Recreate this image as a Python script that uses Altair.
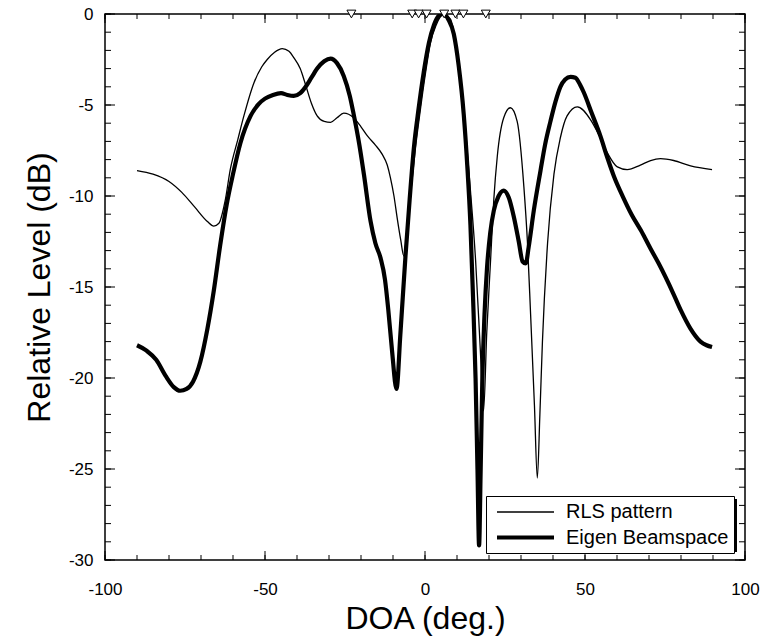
import altair as alt
import pandas as pd

# ---- data ----
rls_deg = [-90, -85, -80, -76, -72, -68, -66, -64.4, -62.5, -60.8, -58.5, -56.6, -53.5, -51, -49.3, -47,
           -44.6, -42.5, -41, -39, -37.3, -35.5, -33.7, -31.5, -29.5, -27.5, -25.4, -22.3, -20, -18,
           -15.5, -13.4, -11.8, -10.8, -9.7, -8.7, -7.6, -6.6, -5.6, -4.5, -3, -1.4, 0.2, 1.7, 3.5,
           5.8, 8, 9.5, 11.1, 12.6, 14.2, 15.8, 17.3, 18.3, 19.3, 20.5, 21.5, 22.6, 24.6, 26.7, 28.8,
           30.9, 32, 33, 34.2, 35.1, 35.9, 36.7, 38.3, 40.3, 42.3, 44.4, 47.6, 51.7, 54.5, 56.9, 60.1,
           63.2, 67.3, 70.5, 73.6, 77.7, 83, 89.7]
rls_db = [-8.6, -8.8, -9.2, -9.8, -10.6, -11.4, -11.65, -11.5, -10.3, -8.5, -6.9, -5.6, -3.8, -2.9, -2.5,
          -2.1, -1.9, -2.05, -2.4, -3.0, -3.9, -4.9, -5.6, -5.9, -5.95, -5.7, -5.45, -5.7, -6.2, -6.7,
          -7.2, -7.7, -8.3, -9.0, -10.0, -11.2, -12.4, -13.3, -11.8, -9.9, -7.4, -5.2, -3.2, -1.6, -0.6,
          0, -0.3, -1.5, -3.4, -6.2, -9.7, -13.5, -18.5, -21.8, -17.5, -13.5, -10.2, -7.8, -5.7, -5.15,
          -5.9, -9.5, -12.5, -16.5, -21.5, -25.5, -22, -18, -12.6, -8.8, -6.8, -5.6, -5.1, -5.8, -6.7,
          -7.6, -8.4, -8.55, -8.3, -8.05, -7.95, -8.05, -8.35, -8.55]

eig_deg = [-90, -87, -84, -81, -78.5, -76.5, -74.5, -72.5, -70.2, -68, -66, -64, -62, -60, -57.7, -54.5,
           -52, -50, -47.5, -45, -43, -41, -39, -37.3, -35.5, -33.7, -31.5, -29.5, -27.5, -25.4, -23.5,
           -22.3, -20.5, -19.1, -17, -15.5, -13.9, -12.5, -11.5, -10.3, -8.9, -7.7, -6.1, -4.8, -3.5,
           -2, -0.4, 1.2, 2.8, 4.3, 5.8, 7.3, 9, 10.5, 12.1, 13.2, 14.2, 15, 15.8, 16.4, 16.9, 17.4,
           17.9, 18.6, 19.4, 20.4, 21.5, 23, 24.6, 26.2, 27.7, 29.3, 30.5, 31.5, 32.4, 34, 36.1, 37.5,
           39.2, 40.8, 42.3, 43.8, 45.5, 47, 48.5, 49.6, 52, 54.8, 57, 59, 62, 64.5, 67.5, 70.5, 73,
           77.7, 80, 83, 86.1, 88, 89.7]
eig_db = [-18.2, -18.5, -19.0, -19.9, -20.5, -20.7, -20.6, -20.2, -19.1, -17.3, -15.2, -12.7, -10.5, -8.8,
          -7.1, -5.6, -4.95, -4.65, -4.45, -4.35, -4.45, -4.5, -4.35, -4.0, -3.5, -3.0, -2.6, -2.45,
          -2.7, -3.4, -4.5, -5.5, -7.2, -8.8, -11.4, -12.6, -13.4, -14.6, -16.2, -18.5, -20.6, -17.6,
          -13.3, -10.2, -7.4, -5.2, -3.2, -1.6, -0.6, -0.1, 0, -0.3, -1.1, -2.8, -5.5, -8.3, -11.6,
          -15.5, -20.0, -25, -29.2, -25, -20.2, -16.5, -13.9, -12.0, -10.8, -10.0, -9.7, -10.1, -11.1,
          -12.5, -13.6, -13.7, -12.8, -10.8, -8.6, -7.2, -5.9, -4.8, -4.0, -3.6, -3.45, -3.5, -3.9,
          -4.3, -5.4, -6.7, -7.9, -8.9, -10.1, -11.0, -11.9, -12.9, -13.7, -15.4, -16.3, -17.3, -18.0,
          -18.2, -18.3]

marker_deg = [-23, -4, -2, 0.5, 6, 9.5, 12, 19]
series_names = ["RLS pattern", "Eigen Beamspace"]
x_labels = [-100, -50, 0, 50, 100]
y_labels = [-30, -25, -20, -15, -10, -5, 0]
x_minor = list(range(-100, 101, 10))
y_minor = list(range(-30, 1))

FONT = "Liberation Sans"
W, H = 640, 546
LEG_X, LEG_Y, LEG_W, LEG_H = 381, 482, 248, 53   # legend box (plot coords) for the drop shadow

df = pd.concat([
    pd.DataFrame({"deg": rls_deg, "db": rls_db, "series": series_names[0]}),
    pd.DataFrame({"deg": eig_deg, "db": eig_db, "series": series_names[1]}),
])

xs = alt.Scale(domain=[-100, 100], nice=False, zero=False)
ys = alt.Scale(domain=[-30, 0], nice=False, zero=False)

xaxis = alt.Axis(values=x_labels, title="DOA (deg.)", ticks=False, domain=False, grid=False,
                 labelFlush=False, labelFontSize=17, labelFont=FONT, labelColor="black",
                 labelPadding=21, titleFontSize=32, titleFont=FONT, titleFontWeight="normal",
                 titleColor="black", titlePadding=6, labelExpr="'' + datum.value")
yaxis = alt.Axis(values=y_labels, title="Relative Level (dB)", ticks=False, domain=False, grid=False,
                 labelFlush=False, labelFontSize=17, labelFont=FONT, labelColor="black",
                 labelPadding=12, titleFontSize=32, titleFont=FONT, titleFontWeight="normal",
                 titleColor="black", titlePadding=12, labelExpr="'' + datum.value")

lines = alt.Chart(df).mark_line(interpolate="monotone", color="black", clip=True).encode(
    x=alt.X("deg:Q", scale=xs, axis=xaxis),
    y=alt.Y("db:Q", scale=ys, axis=yaxis),
    strokeWidth=alt.StrokeWidth("series:N",
        scale=alt.Scale(domain=series_names, range=[1.3, 4.2]),
        legend=alt.Legend(title=None, orient="none", legendX=LEG_X, legendY=LEG_Y,
                          symbolType="M-2.85,0H2.85", symbolSize=400, symbolStrokeColor="black",
                          symbolOffset=22, labelOffset=28, labelLimit=400,
                          labelFontSize=20, labelFont=FONT, labelColor="black",
                          fillColor="white", strokeColor="black",
                          padding=5, rowPadding=3, zindex=1)),
    order=alt.Order("deg:Q"),
)

def rules_y(vals, x0, x1):
    return alt.Chart(pd.DataFrame({"v": vals})).mark_rule(color="black", strokeWidth=1).encode(
        y=alt.Y("v:Q", scale=ys, axis=yaxis), x=alt.value(x0), x2=alt.value(x1))

def rules_x(vals, y0, y1):
    return alt.Chart(pd.DataFrame({"v": vals})).mark_rule(color="black", strokeWidth=1).encode(
        x=alt.X("v:Q", scale=xs, axis=xaxis), y=alt.value(y0), y2=alt.value(y1))

ticks = [
    rules_y(y_minor, 0, 6), rules_y(y_labels, 0, 10),
    rules_y(y_minor, W, W - 6), rules_y(y_labels, W, W - 10),
    rules_x(x_minor, 0, 5), rules_x(x_labels, 0, 9),
    rules_x(x_minor, H, H - 5), rules_x(x_labels, H, H - 9),
]

markers = alt.Chart(pd.DataFrame({"deg": marker_deg, "db": [0] * len(marker_deg)})).mark_point(
    shape="triangle-down", filled=True, fill="white", stroke="black", strokeWidth=1,
    size=80, opacity=1, clip=False).encode(
    x=alt.X("deg:Q", scale=xs, axis=xaxis), y=alt.Y("db:Q", scale=ys, axis=yaxis))

shadow = alt.Chart(pd.DataFrame({"k": [0]})).mark_rect(color="black").encode(
    x=alt.value(LEG_X + 3), x2=alt.value(LEG_X + LEG_W + 3),
    y=alt.value(LEG_Y + 3), y2=alt.value(LEG_Y + LEG_H + 3))

chart = alt.layer(lines, *ticks, markers, shadow).properties(
    width=W, height=H,
    autosize=alt.AutoSizeParams(type="none"),
    padding={"left": 105, "top": 14, "right": 23, "bottom": 81},
    background="white",
).configure_view(stroke="black", strokeWidth=1.5)

chart.save("out.html", embed_options={"renderer": "svg", "actions": False})
